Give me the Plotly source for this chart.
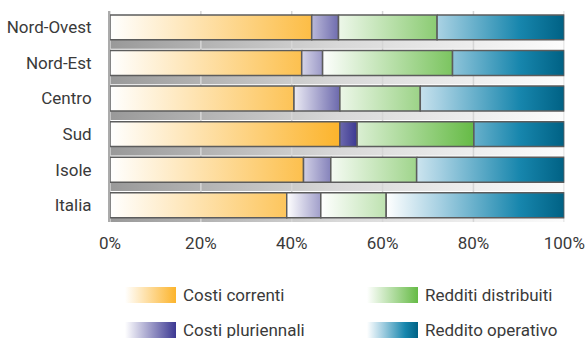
import plotly.graph_objects as go

# ---- data -------------------------------------------------------------
REGIONS = ["Nord-Ovest", "Nord-Est", "Centro", "Sud", "Isole", "Italia"]
SERIES = ["Costi correnti", "Costi pluriennali", "Redditi distribuiti", "Reddito operativo"]
COSTI_CORRENTI = [44.4, 42.2, 40.5, 50.6, 42.6, 38.9]
COSTI_PLURIENNALI = [5.9, 4.6, 10.1, 3.8, 6.0, 7.5]
REDDITI_DISTRIBUITI = [21.7, 28.6, 17.7, 25.7, 18.9, 14.4]
REDDITO_OPERATIVO = [28.0, 24.6, 31.7, 19.9, 32.5, 39.2]
X_TICKS = [0, 20, 40, 60, 80, 100]
X_TICK_LABELS = ["0%", "20%", "40%", "60%", "80%", "100%"]

# ---- styling ----------------------------------------------------------
W, H = 587, 338
FONT = "Roboto, sans-serif"
FONT_SIZE = 17
TEXT = "#3a3a3a"
BORDER = "#5c5c5c"
SCALES = [
    [[0, "#ffffff"], [1, "#fcb42c"]],
    [[0, "#ffffff"], [1, "#3c3892"]],
    [[0, "#ffffff"], [1, "#66bb46"]],
    [[0, "#ffffff"], [0.3, "#a6d0e2"], [0.75, "#1786ad"], [1, "#006184"]],
]
SHADOW_SCALE = [[0, "#999999"], [0.5, "#d8d8d8"], [1, "#fcfcfc"]]
HALF = 0.35            # half bar thickness (category units)
SHADOW = (0.35, 0.60)  # shadow band below each bar
Y_RANGE = [5.47, -0.46]


def rects(y_pos, x0s, x1s, y_lo, y_hi):
    """Closed rectangles joined into one path with gaps."""
    xs, ys = [], []
    for y, a, b in zip(y_pos, x0s, x1s):
        xs += [a, b, b, a, a, None]
        ys += [y + y_lo, y + y_lo, y + y_hi, y + y_hi, y + y_lo, None]
    return xs, ys


ypos = list(range(len(REGIONS)))
values = [COSTI_CORRENTI, COSTI_PLURIENNALI, REDDITI_DISTRIBUITI, REDDITO_OPERATIVO]
totals = [sum(v) for v in zip(*values)]

fig = go.Figure()

# shadow band under each bar
sx, sy = rects(ypos, [0] * len(REGIONS), totals, SHADOW[0], SHADOW[1])
fig.add_trace(go.Scatter(
    x=sx, y=sy, mode="lines", fill="toself", line=dict(width=0),
    fillgradient=dict(type="horizontal", colorscale=SHADOW_SCALE),
    hoverinfo="skip", showlegend=False))

# vertical gridlines (above the shadow, below the bars)
gx, gy = [], []
for t in X_TICKS:
    gx += [t, t, None]
    gy += [Y_RANGE[0], Y_RANGE[1], None]
fig.add_trace(go.Scatter(x=gx, y=gy, mode="lines",
                         line=dict(color="#d6d6d6", width=1.5),
                         hoverinfo="skip", showlegend=False))

# stacked segments
base = [0.0] * len(REGIONS)
for name, vals, scale in zip(SERIES, values, SCALES):
    ends = [b + v for b, v in zip(base, vals)]
    x, y = rects(ypos, base, ends, -HALF, HALF)
    fig.add_trace(go.Scatter(
        x=x, y=y, mode="lines", fill="toself", name=name,
        line=dict(color=BORDER, width=1.5),
        fillgradient=dict(type="horizontal", colorscale=scale),
        showlegend=False))
    base = ends

# legend swatches drawn in pixel space on an overlay axis pair
LEG_POS = [(125, 287), (125, 322), (367, 287), (367, 322)]
SW_W, SW_H = 51, 16
for name, scale, (lx, ly) in zip(SERIES, SCALES, LEG_POS):
    fig.add_trace(go.Scatter(
        x=[lx, lx + SW_W, lx + SW_W, lx, lx], y=[ly, ly, ly + SW_H, ly + SW_H, ly],
        mode="lines", fill="toself", line=dict(width=0),
        fillgradient=dict(type="horizontal", colorscale=scale),
        xaxis="x2", yaxis="y2", hoverinfo="skip", showlegend=False))
    fig.add_annotation(x=(lx + SW_W + 5) / W, y=1 - (ly + SW_H / 2) / H,
                       xref="paper", yref="paper", xanchor="left", yanchor="middle",
                       text=name, showarrow=False,
                       font=dict(family=FONT, size=FONT_SIZE, color=TEXT))

fig.update_layout(
    width=W, height=H,
    margin=dict(l=0, r=0, t=0, b=0, autoexpand=False),
    paper_bgcolor="white", plot_bgcolor="rgba(0,0,0,0)",
    showlegend=False,
    font=dict(family=FONT, size=FONT_SIZE, color=TEXT),
    xaxis=dict(domain=[110 / W, 564.3 / W], range=[0, 100], showgrid=False,
               zeroline=False, tickvals=X_TICKS, ticktext=X_TICK_LABELS,
               ticks="", ticklabelstandoff=9, ticklabeloverflow="allow",
               fixedrange=True, automargin=False),
    yaxis=dict(domain=[1 - 222 / H, 1 - 11 / H], range=Y_RANGE, showgrid=False,
               zeroline=False, tickvals=ypos, ticktext=REGIONS, ticks="",
               ticklabelstandoff=13, ticklabeloverflow="allow", showline=True,
               linecolor="#ababab", linewidth=2, fixedrange=True, automargin=False),
    xaxis2=dict(domain=[0, 1], range=[0, W], visible=False, anchor="y2"),
    yaxis2=dict(domain=[0, 1], range=[H, 0], visible=False, anchor="x2"),
)

fig.write_html("out.html")
